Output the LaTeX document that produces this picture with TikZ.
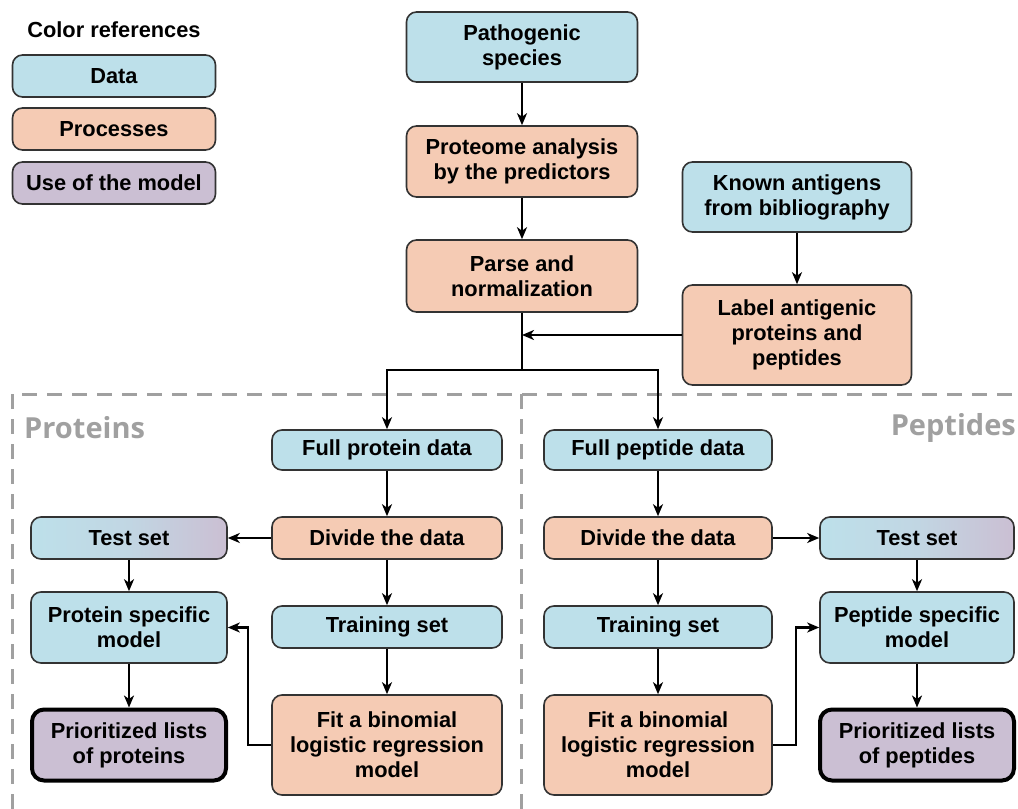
\documentclass[tikz,border=0pt]{standalone}
\usepackage{fontspec}
\setmainfont{Liberation Sans}
\newfontfamily\grayfont{Open Sans}
\usetikzlibrary{arrows.meta}
\definecolor{cdata}{HTML}{BDE0EA}
\definecolor{cproc}{HTML}{F5CBB4}
\definecolor{cuse}{HTML}{CBBFD3}
\definecolor{cbord}{HTML}{333333}
\definecolor{cdash}{HTML}{A0A0A0}
\tikzset{
  box/.style={draw=cbord, line width=1.6pt, rounded corners=10pt, align=center,
    font=\fontsize{21.8}{25}\selectfont\bfseries, inner sep=0pt},
  databox/.style={box, fill=cdata},
  procbox/.style={box, fill=cproc},
  usebox/.style={box, fill=cuse},
  finalbox/.style={box, fill=cuse, draw=black, line width=4pt, rounded corners=12pt},
  gradbox/.style={box, left color=cdata, right color=cuse, middle color=cdata!70!cuse},
  arr/.style={line width=2.2pt, -{Stealth[length=12pt,width=10pt,inset=3.5pt]}},
  plain/.style={line width=2.2pt},
  sect/.style={draw=cdash, line width=3pt, dash pattern=on 15pt off 10pt},
  secttitle/.style={text=cdash, font=\grayfont\fontsize{29}{32}\selectfont\bfseries, inner sep=0pt}
}
\begin{document}
\begin{tikzpicture}[x=1pt,y=-1pt]
\useasboundingbox (0,0) rectangle (1018,809);
% section borders
\draw[sect] (12,809) -- (12,394) -- (1018,394);
\draw[sect] (521,394) -- (521,809);
\node[secttitle, anchor=west] (ptitle) at (24,428) {Proteins};
\node[secttitle, anchor=east] (ptitle2) at (1016,428) {Peptides};
% legend
\node[font=\fontsize{21.8}{25}\selectfont\bfseries] (cref) at (114,30) {Color references};
\node[databox, minimum width=203pt, minimum height=42pt] (ldata) at (114,76) {Data};
\node[procbox, minimum width=203pt, minimum height=42pt] (lproc) at (114,129) {Processes};
\node[usebox, minimum width=203pt, minimum height=42pt] (luse) at (114,183) {Use of the model};
% top chain
\node[databox, minimum width=231pt, minimum height=70pt] (path) at (522,47) {Pathogenic\\species};
\node[procbox, minimum width=231pt, minimum height=71pt] (prot) at (522,161.5) {Proteome analysis\\by the predictors};
\node[procbox, minimum width=231pt, minimum height=72pt] (parse) at (522,276) {Parse and\\normalization};
\node[databox, minimum width=229pt, minimum height=70pt] (known) at (797,197) {Known antigens\\from bibliography};
\node[procbox, minimum width=229pt, minimum height=100pt] (label) at (797,335) {Label antigenic\\proteins and\\peptides};
% proteins
\node[databox, minimum width=230pt, minimum height=40pt] (fullprot) at (387,450) {Full protein data};
\node[procbox, minimum width=230pt, minimum height=42pt] (divl) at (387,538) {Divide the data};
\node[databox, minimum width=230pt, minimum height=42pt] (trainl) at (387,627) {Training set};
\node[procbox, minimum width=230pt, minimum height=100pt] (fitl) at (387,745) {Fit a binomial\\logistic regression\\model};
\node[gradbox, minimum width=196pt, minimum height=42pt] (testl) at (129,538) {Test set};
\node[databox, minimum width=196pt, minimum height=71pt] (modell) at (129,627.5) {Protein specific\\model};
\node[finalbox, minimum width=194pt, minimum height=71pt] (priol) at (129,745) {Prioritized lists\\of proteins};
% peptides
\node[databox, minimum width=228pt, minimum height=40pt] (fullpep) at (658,450) {Full peptide data};
\node[procbox, minimum width=228pt, minimum height=42pt] (divr) at (658,538) {Divide the data};
\node[databox, minimum width=228pt, minimum height=42pt] (trainr) at (658,627) {Training set};
\node[procbox, minimum width=228pt, minimum height=100pt] (fitr) at (658,745) {Fit a binomial\\logistic regression\\model};
\node[gradbox, minimum width=194pt, minimum height=42pt] (testr) at (917,538) {Test set};
\node[databox, minimum width=194pt, minimum height=71pt] (modelr) at (917,627.5) {Peptide specific\\model};
\node[finalbox, minimum width=194pt, minimum height=71pt] (prior) at (917,745) {Prioritized lists\\of peptides};
% connectors
\coordinate (join) at (522,335);
\coordinate (split) at (522,370);
\coordinate (fbl) at (248,745);
\coordinate (fbr) at (796,745);
\draw[arr] (path) -- (prot);
\draw[arr] (prot) -- (parse);
\draw[arr] (known) -- (label);
\draw[arr] (label.west) -- (join);
\draw[plain] (parse.south) -- (split);
\draw[arr] (split) -| (fullprot.north);
\draw[arr] (split) -| (fullpep.north);
\draw[arr] (fullprot) -- (divl);
\draw[arr] (divl) -- (trainl);
\draw[arr] (trainl) -- (fitl);
\draw[arr] (divl) -- (testl);
\draw[arr] (testl) -- (modell);
\draw[arr] (modell) -- (priol);
\draw[arr] (fitl.west) -- (fbl) |- (modell.east);
\draw[arr] (fullpep) -- (divr);
\draw[arr] (divr) -- (trainr);
\draw[arr] (trainr) -- (fitr);
\draw[arr] (divr) -- (testr);
\draw[arr] (testr) -- (modelr);
\draw[arr] (modelr) -- (prior);
\draw[arr] (fitr.east) -- (fbr) |- (modelr.west);
\end{tikzpicture}
\end{document}
